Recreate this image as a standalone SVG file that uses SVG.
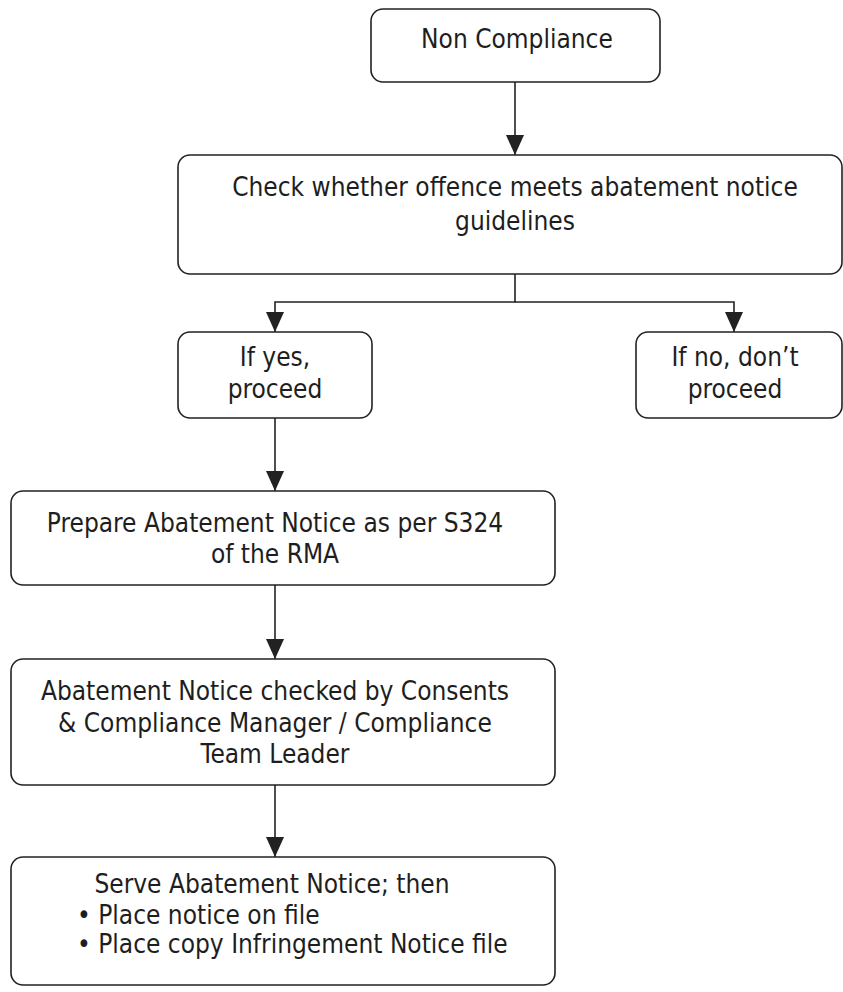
<svg xmlns="http://www.w3.org/2000/svg" width="843" height="992" viewBox="0 0 843 992">
<defs>
<style>
.box{fill:#fff;stroke:#222;stroke-width:1.6}
.t{font-family:"DejaVu Sans Condensed","DejaVu Sans",Verdana,sans-serif;font-size:26px;fill:#1e1e1e;text-anchor:middle}
.tl{font-family:"DejaVu Sans Condensed","DejaVu Sans",Verdana,sans-serif;font-size:26px;fill:#1e1e1e}
.c{fill:none;stroke:#222;stroke-width:1.6}
</style>
<marker id="ah" markerWidth="20" markerHeight="18" refX="20" refY="9" orient="auto" markerUnits="userSpaceOnUse" viewBox="0 0 20 18">
<path d="M0,0 L20,9 L0,18 Z" fill="#222"/>
</marker>
</defs>
<rect width="843" height="992" fill="#fff"/>
<g id="connectors">
<path class="c" d="M515,82 V155" marker-end="url(#ah)"/>
<path class="c" d="M515,274 V302 H275 V332" marker-end="url(#ah)"/>
<path class="c" d="M515,302 H734 V332" marker-end="url(#ah)"/>
<path class="c" d="M275,418 V491" marker-end="url(#ah)"/>
<path class="c" d="M275,585 V659" marker-end="url(#ah)"/>
<path class="c" d="M275,785 V857" marker-end="url(#ah)"/>
</g>
<g id="n1">
<rect class="box" x="371" y="9" width="289" height="73" rx="12"/>
<text class="t" x="517" y="48">Non Compliance</text>
</g>
<g id="n2">
<rect class="box" x="178" y="155" width="664" height="119" rx="12"/>
<text class="t" x="515" y="196">Check whether offence meets abatement notice</text>
<text class="t" x="515" y="230">guidelines</text>
</g>
<g id="n3">
<rect class="box" x="178" y="332" width="194" height="86" rx="12"/>
<text class="t" x="275" y="366">If yes,</text>
<text class="t" x="275" y="398">proceed</text>
</g>
<g id="n4">
<rect class="box" x="636" y="332" width="206" height="86" rx="12"/>
<text class="t" x="735" y="366">If no, don’t</text>
<text class="t" x="735" y="398">proceed</text>
</g>
<g id="n5">
<rect class="box" x="11" y="491" width="544" height="94" rx="12"/>
<text class="t" x="275" y="532">Prepare Abatement Notice as per S324</text>
<text class="t" x="275" y="563">of the RMA</text>
</g>
<g id="n6">
<rect class="box" x="11" y="659" width="544" height="126" rx="12"/>
<text class="t" x="275" y="700">Abatement Notice checked by Consents</text>
<text class="t" x="275" y="732">&amp; Compliance Manager / Compliance</text>
<text class="t" x="275" y="763">Team Leader</text>
</g>
<g id="n7">
<rect class="box" x="11" y="857" width="544" height="128" rx="12"/>
<text class="t" x="272" y="893">Serve Abatement Notice; then</text>
<text class="tl" x="77" y="924">• Place notice on file</text>
<text class="tl" x="77" y="953">• Place copy Infringement Notice file</text>
</g>
</svg>
